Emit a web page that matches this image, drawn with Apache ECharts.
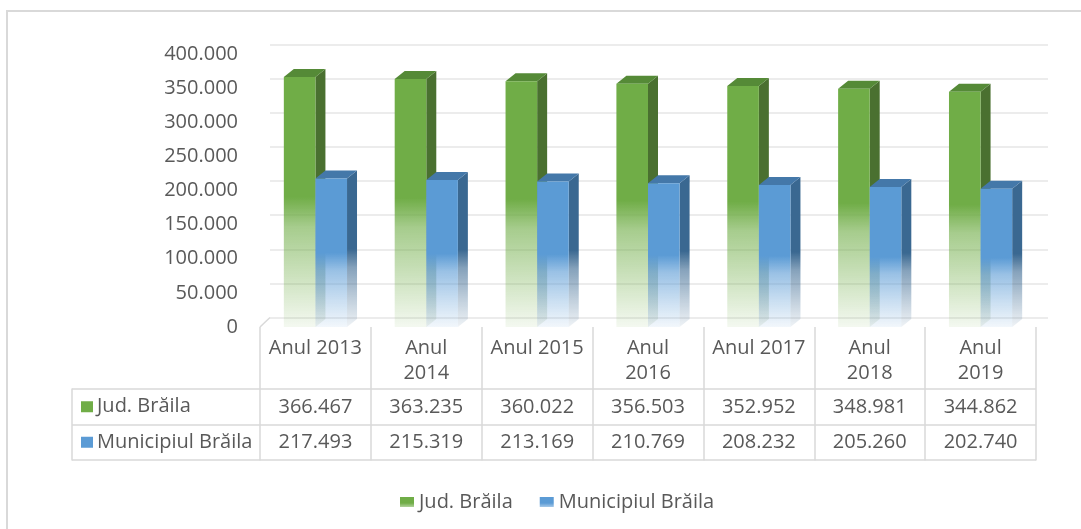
<!DOCTYPE html>
<html>
<head>
<meta charset="utf-8">
<style>
  html, body { margin: 0; padding: 0; background: #fff; }
  #main { width: 1081px; height: 529px; }
</style>
<script src="https://cdn.jsdelivr.net/npm/echarts@6/dist/echarts.min.js"></script>
</head>
<body>
<div id="main"></div>
<script>
// date
var years = ['Anul 2013', 'Anul 2014', 'Anul 2015', 'Anul 2016', 'Anul 2017', 'Anul 2018', 'Anul 2019'];
var seriesNames = ['Jud. Brăila', 'Municipiul Brăila'];
var judet = [366467, 363235, 360022, 356503, 352952, 348981, 344862];
var municipiu = [217493, 215319, 213169, 210769, 208232, 205260, 202740];
var yTicks = [0, 50000, 100000, 150000, 200000, 250000, 300000, 350000, 400000];

var FONT = '"Open Sans", "Noto Sans", sans-serif';
var TXT = '#595959';
var LINE = '#D9D9D9';
// coloanele care se rup pe doua randuri in tabel
var wrapped = [1, 3, 5, 6];

function fmt(v) {
  return String(v).replace(/\B(?=(\d{3})+(?!\d))/g, '.');
}

var palette = [
  { front: '112,173,71', side: '#4A7030', top: '#558A37' },
  { front: '91,155,213', side: '#3A6891', top: '#4478A9' }
];

function fade(rgb, solidTo) {
  return new echarts.graphic.LinearGradient(0, 0, 0, 1, [
    { offset: 0, color: 'rgba(' + rgb + ',1)' },
    { offset: solidTo, color: 'rgba(' + rgb + ',1)' },
    { offset: solidTo + 0.12, color: 'rgba(' + rgb + ',0.62)' },
    { offset: 0.82, color: 'rgba(' + rgb + ',0.32)' },
    { offset: 1, color: 'rgba(' + rgb + ',0.08)' }
  ]);
}

function fadeHex(hex, solidTo) {
  var c = echarts.color.parse(hex);
  return fade(c[0] + ',' + c[1] + ',' + c[2], solidTo);
}

// cheia din legenda: aproape plina, usor mai deschisa jos
function keyFill(rgb) {
  return new echarts.graphic.LinearGradient(0, 0, 0, 1, [
    { offset: 0, color: 'rgba(' + rgb + ',1)' },
    { offset: 0.6, color: 'rgba(' + rgb + ',1)' },
    { offset: 1, color: 'rgba(' + rgb + ',0.55)' }
  ]);
}

// bara 3D: fata + lateral + capac
function renderBar(params, api) {
  var p = palette[params.seriesIndex];
  var idx = api.value(0);
  var top = api.coord([idx, api.value(1)]);
  var base = api.coord([idx, 0]);
  var band = api.size([1, 0])[0];
  var w = band * 0.285;
  var dx = 10, dy = -8;
  var x0 = params.seriesIndex === 0 ? top[0] - w : top[0];
  var x1 = x0 + w;
  var yt = top[1], yb = base[1];
  var solid = params.seriesIndex === 0 ? 0.48 : 0.5;
  return {
    type: 'group',
    children: [
      {
        type: 'polygon',
        shape: { points: [[x1, yt], [x1 + dx, yt + dy], [x1 + dx, yb + dy], [x1, yb]] },
        style: { fill: fadeHex(p.side, solid) }
      },
      {
        type: 'polygon',
        shape: { points: [[x0, yt], [x0 + dx, yt + dy], [x1 + dx, yt + dy], [x1, yt]] },
        style: { fill: p.top }
      },
      {
        type: 'rect',
        shape: { x: x0, y: yt, width: w, height: yb - yt },
        style: { fill: fade(p.front, solid) }
      }
    ]
  };
}

var chart = echarts.init(document.getElementById('main'));

chart.setOption({
  animation: false,
  textStyle: { fontFamily: FONT },
  graphic: [
    {
      type: 'rect',
      shape: { x: 7, y: 11, width: 1200, height: 700 },
      style: { fill: 'none', stroke: LINE, lineWidth: 2 },
      silent: true
    },
    {
      type: 'line',
      shape: { x1: 260, y1: 327, x2: 270, y2: 317.5 },
      style: { stroke: LINE, lineWidth: 1.5 },
      silent: true
    }
  ],
  legend: {
    left: 395,
    top: 487,
    itemWidth: 14,
    itemHeight: 10,
    itemGap: 27,
    icon: 'rect',
    data: seriesNames,
    textStyle: { color: TXT, fontSize: 20, fontFamily: FONT }
  },
  grid: [
    // planul din fata (bare, etichete)
    { left: 260, right: 45, top: 54, height: 273 },
    // peretele din spate (linii de grila)
    { left: 270, right: 33, top: 44.5, height: 273 },
    // tabelul de date
    { left: 72, right: 45, top: 389, height: 71 }
  ],
  xAxis: [
    {
      type: 'category',
      gridIndex: 0,
      data: years,
      boundaryGap: true,
      axisLine: { show: false },
      axisTick: { show: true, length: 133.5, lineStyle: { color: LINE, width: 1.5 } },
      axisLabel: {
        interval: 0,
        margin: 9,
        color: TXT,
        fontSize: 20,
        lineHeight: 25,
        fontFamily: FONT,
        formatter: function (v, i) {
          return wrapped.indexOf(i) >= 0 ? v.replace(' ', '\n') : v;
        }
      }
    },
    {
      type: 'category',
      gridIndex: 0,
      position: 'bottom',
      data: years,
      axisLine: { show: false },
      axisTick: { show: false },
      axisLabel: {
        interval: 0,
        margin: 80,
        verticalAlign: 'middle',
        color: TXT,
        fontSize: 20,
        fontFamily: FONT,
        formatter: function (v, i) { return fmt(judet[i]); }
      }
    },
    {
      type: 'category',
      gridIndex: 0,
      position: 'bottom',
      data: years,
      axisLine: { show: false },
      axisTick: { show: false },
      axisLabel: {
        interval: 0,
        margin: 115,
        verticalAlign: 'middle',
        color: TXT,
        fontSize: 20,
        fontFamily: FONT,
        formatter: function (v, i) { return fmt(municipiu[i]); }
      }
    },
    { type: 'category', gridIndex: 1, data: years, show: false },
    { type: 'value', gridIndex: 2, show: false }
  ],
  yAxis: [
    {
      type: 'value',
      gridIndex: 0,
      min: yTicks[0],
      max: yTicks[yTicks.length - 1],
      interval: yTicks[1] - yTicks[0],
      axisLine: { show: false },
      axisTick: { show: false },
      splitLine: { show: false },
      axisLabel: {
        margin: 22,
        color: TXT,
        fontSize: 20,
        fontFamily: FONT,
        formatter: function (v) { return fmt(v); }
      }
    },
    {
      type: 'value',
      gridIndex: 1,
      min: yTicks[0],
      max: yTicks[yTicks.length - 1],
      interval: yTicks[1] - yTicks[0],
      axisLine: { show: false },
      axisTick: { show: false },
      axisLabel: { show: false },
      splitLine: { show: true, lineStyle: { color: '#E6E6E6', width: 1.5 } }
    },
    {
      type: 'category',
      gridIndex: 2,
      data: seriesNames,
      inverse: true,
      boundaryGap: true,
      axisLine: { show: true, lineStyle: { color: LINE, width: 1.5 } },
      axisTick: { show: false },
      splitLine: { show: true, lineStyle: { color: LINE, width: 1.5 } },
      axisLabel: {
        inside: true,
        margin: 9,
        align: 'left',
        color: TXT,
        fontSize: 20,
        fontFamily: FONT,
        formatter: function (v, i) {
          return '{k' + i + '|}{t|' + v + '}';
        },
        rich: {
          k0: { width: 12, height: 11, backgroundColor: '#70AD47' },
          k1: { width: 12, height: 11, backgroundColor: '#5B9BD5' },
          t: { color: TXT, fontSize: 20, fontFamily: FONT, padding: [0, 0, 0, 4] }
        }
      }
    }
  ],
  series: [
    {
      name: seriesNames[0],
      type: 'custom',
      xAxisIndex: 0,
      yAxisIndex: 0,
      renderItem: renderBar,
      itemStyle: { color: keyFill('112,173,71') },
      data: judet.map(function (v, i) { return [i, v]; })
    },
    {
      name: seriesNames[1],
      type: 'custom',
      xAxisIndex: 0,
      yAxisIndex: 0,
      renderItem: renderBar,
      itemStyle: { color: keyFill('91,155,213') },
      data: municipiu.map(function (v, i) { return [i, v]; })
    }
  ]
});
</script>
</body>
</html>
